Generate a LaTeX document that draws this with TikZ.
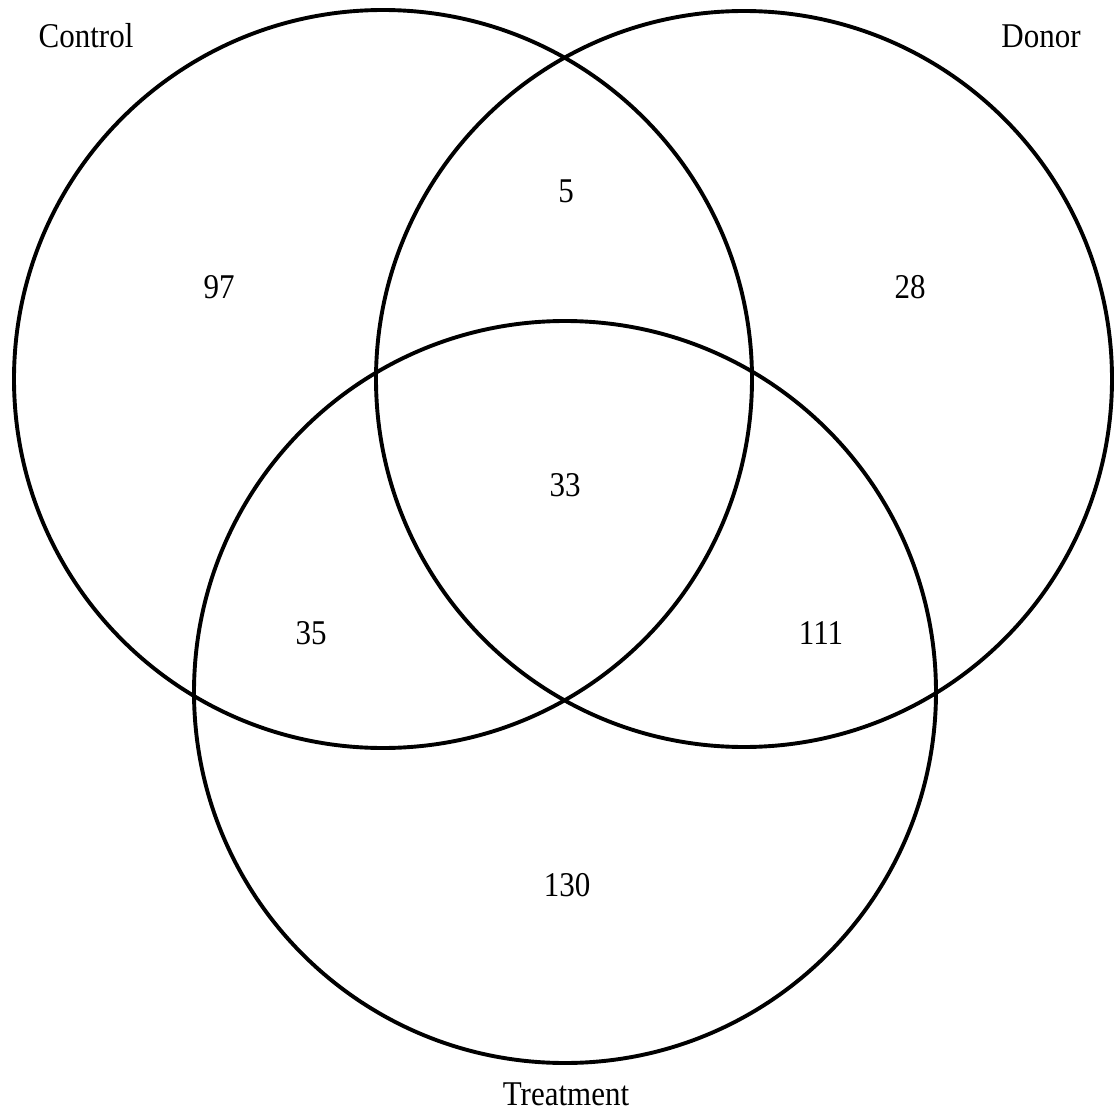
\documentclass[tikz,border=0pt]{standalone}
\usepackage{fontspec}
\usepackage{graphicx}
\setmainfont{Liberation Serif}
\newcommand{\tallt}[1]{\scalebox{1}[1.12]{#1}}
\begin{document}
\begin{tikzpicture}[x=1pt,y=-1pt,
  venn/.style={draw=black,line width=3.9pt},
  lbl/.style={font=\fontsize{31}{36}\selectfont,inner sep=0pt,anchor=center}]
\useasboundingbox (0,0) rectangle (1114,1113);
\fill[white] (0,0) rectangle (1114,1113);
\draw[venn] (383,379) circle[radius=369];
\draw[venn] (744,379) circle[radius=368];
\draw[venn] (565,692) circle[radius=371];
\node[lbl] (control) at (86,36) {\tallt{Control}};
\node[lbl] (donor) at (1041,36) {\tallt{Donor}};
\node[lbl] (treat) at (566,1094) {\tallt{Treatment}};
\node[lbl] (n5) at (566,191) {\tallt{5}};
\node[lbl] (n97) at (219,287) {\tallt{97}};
\node[lbl] (n28) at (910,287) {\tallt{28}};
\node[lbl] (n33) at (565,485) {\tallt{33}};
\node[lbl] (n35) at (311,633) {\tallt{35}};
\node[lbl] (n111) at (821,633) {\tallt{111}};
\node[lbl] (n130) at (567,885) {\tallt{130}};
\end{tikzpicture}
\end{document}
